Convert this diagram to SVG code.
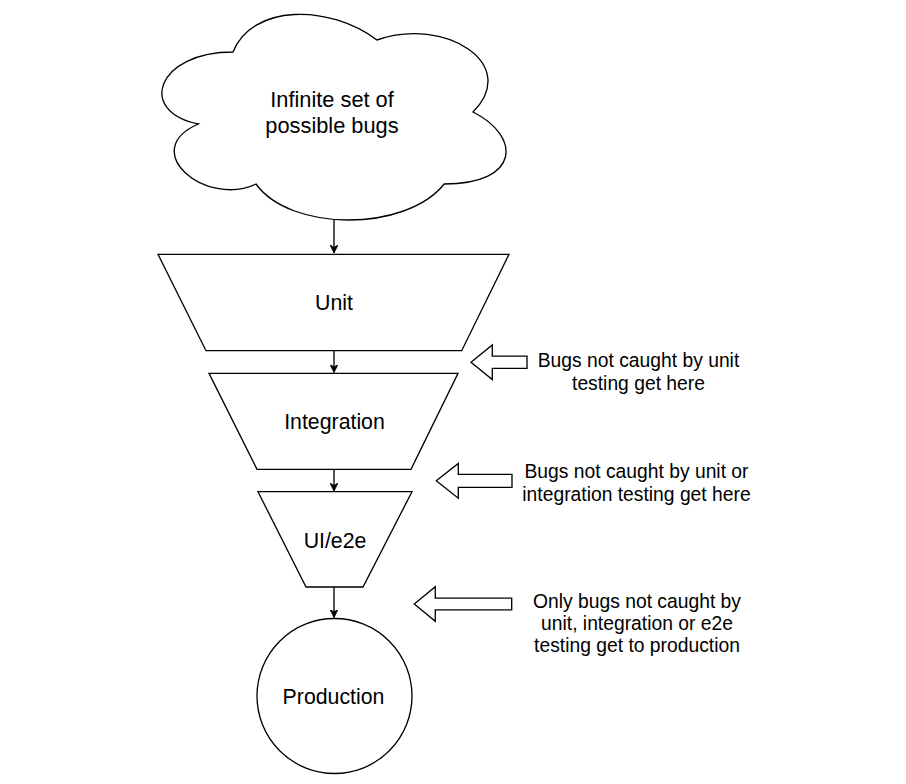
<svg xmlns="http://www.w3.org/2000/svg" width="906" height="784" viewBox="0 0 906 784">
<style>
.shape{fill:#ffffff;stroke:#000000;stroke-width:1.33}
.edge{fill:none;stroke:#000000;stroke-width:1.33}
.node{font-family:"Liberation Sans",Arial,Helvetica,sans-serif;font-size:21.3px;fill:#000000;text-anchor:middle}
.lbl{font-family:"Liberation Sans",Arial,Helvetica,sans-serif;font-size:19.3px;fill:#000000;text-anchor:middle}
</style>
<defs>
<marker id="ah" viewBox="0 0 10 10" refX="10" refY="5" markerWidth="8" markerHeight="8" markerUnits="userSpaceOnUse" orient="auto">
<path d="M0,0 L10,5 L0,10 L3,5 Z" fill="#000000" stroke="#000000" stroke-width="1"/>
</marker>
</defs>
<rect x="0" y="0" width="906" height="784" fill="#ffffff"/>
<g id="connectors">
<line class="edge" x1="334" y1="219" x2="334" y2="253" marker-end="url(#ah)"/>
<line class="edge" x1="334" y1="351" x2="334" y2="372.5" marker-end="url(#ah)"/>
<line class="edge" x1="334" y1="469.5" x2="334" y2="491" marker-end="url(#ah)"/>
<line class="edge" x1="334" y1="587" x2="334" y2="617.5" marker-end="url(#ah)"/>
</g>
<g id="cloud">
<path class="shape" d="M233,52 C156.2,52 137,112 198.4,124 C137,150.4 206.1,208 256,184 C290.6,232 405.8,232 444.2,184 C521,184 521,136 473,112 C521,64 444.2,16 377,40 C329,4 252.2,4 233,52 Z"/>
<text class="node" x="332" y="107" style="font-size:21.8px">Infinite set of</text>
<text class="node" x="332" y="132.5" style="font-size:21.8px">possible bugs</text>
</g>
<g id="unit">
<polygon class="shape" points="158,254.3 509,254.3 461.7,350.7 206,350.7"/>
<text class="node" x="334" y="310">Unit</text>
</g>
<g id="integration">
<polygon class="shape" points="209,373.3 458,373.3 411,469.3 257,469.3"/>
<text class="node" x="334.5" y="428.8">Integration</text>
</g>
<g id="uie2e">
<polygon class="shape" points="258,491.7 412,491.7 363,587 306,587"/>
<text class="node" x="335" y="548">UI/e2e</text>
</g>
<g id="production">
<circle class="shape" cx="334.5" cy="696" r="77.5"/>
<text class="node" x="333.5" y="703.5">Production</text>
</g>
<g id="arrow1">
<polygon class="shape" points="471,362.3 492.3,345 492.3,356.2 527,356.2 527,368.4 492.3,368.4 492.3,379.6"/>
</g>
<g id="label1">
<text class="lbl" x="638.5" y="367.3">Bugs not caught by unit</text>
<text class="lbl" x="638.5" y="389.8">testing get here</text>
</g>
<g id="arrow2">
<polygon class="shape" points="436.3,480.8 458.3,463.4 458.3,474.3 512,474.3 512,487.3 458.3,487.3 458.3,498.2"/>
</g>
<g id="label2">
<text class="lbl" x="636.5" y="478">Bugs not caught by unit or</text>
<text class="lbl" x="636.5" y="500.5">integration testing get here</text>
</g>
<g id="arrow3">
<polygon class="shape" points="414.3,604 435.3,586.7 435.3,598.1 511.7,598.1 511.7,609.9 435.3,609.9 435.3,621.3"/>
</g>
<g id="label3">
<text class="lbl" x="637" y="607.5">Only bugs not caught by</text>
<text class="lbl" x="637" y="629.5">unit, integration or e2e</text>
<text class="lbl" x="637" y="651.5">testing get to production</text>
</g>
</svg>
